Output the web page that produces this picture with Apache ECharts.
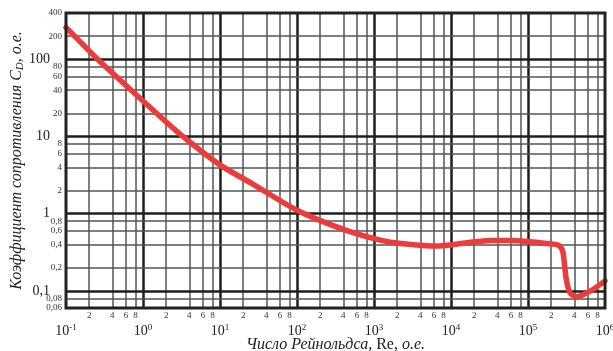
<!DOCTYPE html>
<html>
<head>
<meta charset="utf-8">
<script src="https://cdn.jsdelivr.net/npm/echarts@6/dist/echarts.min.js"></script>
<style>html,body{margin:0;padding:0;background:#fff}#c{width:613px;height:351px}</style>
</head>
<body>
<div id="c"></div>
<script>
// Data: drag coefficient vs Reynolds number
const reValues = [0.1, 0.27, 1, 2.7, 10, 27, 100, 400, 1200, 2400, 6500, 16000, 32000, 64000, 143000, 248000, 282000, 312000, 351000, 428000, 640000, 1000000];
const cdValues = [260, 96, 29, 11.9, 4.3, 2.41, 1.11, 0.627, 0.455, 0.408, 0.381, 0.42, 0.45, 0.45, 0.42, 0.392, 0.33, 0.148, 0.094, 0.084, 0.099, 0.135];

// Tick definitions
const xDecadeExps = [-1, 0, 1, 2, 3, 4, 5, 6];
const xMinorMantissas = [2, 4, 6, 8];
const yDecades = [100, 10, 1, 0.1];
const yMinorTicks = [400, 200, 80, 60, 40, 20, 8, 6, 4, 2, 0.8, 0.6, 0.4, 0.2, 0.08, 0.06];
const xMin = 0.1, xMax = 1e6, yMin = 0.06, yMax = 400;

const FONT = 'Liberation Serif';
const majorStyle = {color: '#1e1e1e', width: 2.5, type: 'solid'};
const minorStyle = {color: '#555', width: 1.5, type: 'solid'};
const hiddenStyle = {color: 'rgba(0,0,0,0)', width: 0.1, type: 'solid'};
const fmt = v => String(v).replace('.', ',');
// keep boundary marks just inside the axis extent so they are not filtered out
const inside = (v, lo, hi) => v <= lo * 1.0001 ? lo * 1.001 : (v >= hi * 0.9999 ? hi * 0.999 : v);

const lines = [];
// x decades
xDecadeExps.forEach(e => {
  const v = Math.pow(10, e);
  const edge = (v <= xMin * 1.0001 || v >= xMax * 0.9999);
  lines.push({
    xAxis: inside(v, xMin, xMax),
    lineStyle: edge ? hiddenStyle : majorStyle,
    label: {show: true, position: 'start', distance: 15, formatter: '10{sup|' + e + '}',
      color: '#222', fontFamily: FONT, fontSize: 14,
      rich: {sup: {fontSize: 9, fontFamily: FONT, color: '#222', verticalAlign: 'top', padding: [0, 0, 7, 0]}}}
  });
});
// x minor
xDecadeExps.slice(0, -1).forEach(e => {
  xMinorMantissas.forEach(m => {
    lines.push({
      xAxis: m * Math.pow(10, e),
      lineStyle: minorStyle,
      label: {show: true, position: 'start', distance: 3, formatter: String(m), color: '#333', fontFamily: FONT, fontSize: 9}
    });
  });
});
// y decades
yDecades.forEach(v => {
  lines.push({
    yAxis: v,
    lineStyle: majorStyle,
    label: {show: true, position: 'start', distance: 16, formatter: fmt(v), color: '#222', fontFamily: FONT, fontSize: 14}
  });
});
// y minor
yMinorTicks.forEach(v => {
  const edge = (v === yMin || v === yMax);
  lines.push({
    yAxis: inside(v, yMin, yMax),
    lineStyle: edge ? hiddenStyle : minorStyle,
    label: {show: true, position: 'start', distance: 4, formatter: fmt(v), color: '#333', fontFamily: FONT, fontSize: 9}
  });
});

const chart = echarts.init(document.getElementById('c'), null, {renderer: 'canvas'});
chart.setOption({
  animation: false,
  backgroundColor: '#fff',
  grid: {left: 66, right: 8, top: 13, bottom: 43, containLabel: false, outerBoundsMode: 'none',
    show: true, borderColor: '#222', borderWidth: 3, backgroundColor: 'transparent', z: 5},
  xAxis: {
    type: 'log', logBase: 10, min: xMin, max: xMax,
    axisLine: {show: false}, axisTick: {show: false}, axisLabel: {show: false}, splitLine: {show: false},
    name: '{i|Число Рейнольдса,} {n|Re,} {i|о.е.}',
    nameLocation: 'middle', nameGap: 29, nameMoveOverlap: false,
    nameTextStyle: {fontFamily: FONT, fontSize: 16, color: '#222',
      rich: {i: {fontFamily: FONT, fontSize: 16, fontStyle: 'italic', color: '#222'}, n: {fontFamily: FONT, fontSize: 16, color: '#222'}}}
  },
  yAxis: {
    type: 'log', logBase: 10, min: yMin, max: yMax,
    axisLine: {show: false}, axisTick: {show: false}, axisLabel: {show: false}, splitLine: {show: false},
    name: '{i|Коэффициент сопротивления C}{sub|D}{i|, о.е.}',
    nameLocation: 'middle', nameGap: 40, nameRotate: 90, nameMoveOverlap: false,
    nameTextStyle: {fontFamily: FONT, fontSize: 16, color: '#222',
      rich: {i: {fontFamily: FONT, fontSize: 16, fontStyle: 'italic', color: '#222'},
             sub: {fontFamily: FONT, fontSize: 11, fontStyle: 'italic', color: '#222', verticalAlign: 'bottom', padding: [8, 0, 0, 0]}}}
  },
  series: [{
    type: 'line',
    data: reValues.map((r, i) => [r, cdValues[i]]),
    smooth: 0.25,
    symbol: 'none',
    clip: false,
    lineStyle: {color: '#ec3b3b', width: 5.5, cap: 'round', join: 'round'},
    z: 4,
    markLine: {silent: true, symbol: 'none', animation: false, data: lines, z: 1}
  }]
});
</script>
</body>
</html>
